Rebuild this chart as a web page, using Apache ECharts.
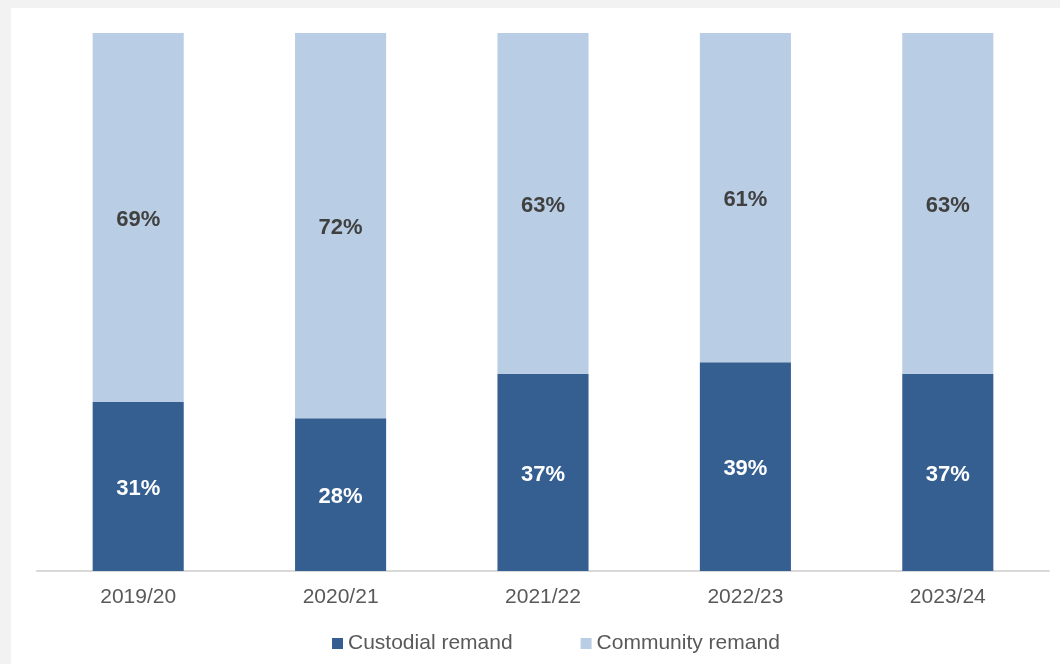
<!DOCTYPE html>
<html>
<head>
<meta charset="utf-8">
<script src="https://cdn.jsdelivr.net/npm/echarts@6/dist/echarts.min.js"></script>
<style>
  html, body { margin: 0; padding: 0; background: #f2f2f2; }
  #chart { width: 1060px; height: 664px; }
</style>
</head>
<body>
<div id="chart"></div>
<script>
// data (percent of remand episodes)
const years = ['2019/20', '2020/21', '2021/22', '2022/23', '2023/24']
const custodial = [31.4, 28.4, 36.6, 38.8, 36.6]
const community = [68.6, 71.6, 63.4, 61.2, 63.4]

const chart = echarts.init(document.getElementById('chart'))

const labelFmt = p => Math.round(p.value) + '%'

chart.setOption({
  backgroundColor: '#f2f2f2',
  animation: false,
  textStyle: { fontFamily: 'Liberation Sans, Arial, sans-serif' },
  graphic: [{
    type: 'rect',
    z: -10,
    shape: { x: 11, y: 8, width: 1049, height: 656 },
    style: { fill: '#ffffff' }
  }],
  grid: { left: 37, right: 11, top: 33, bottom: 93, containLabel: false },
  legend: {
    left: 327,
    top: 628,
    itemWidth: 11,
    itemHeight: 11,
    itemGap: 68,
    icon: 'rect',
    textStyle: { color: '#595959', fontSize: 21 },
    data: ['Custodial remand', 'Community remand']
  },
  xAxis: {
    type: 'category',
    data: years,
    axisLine: { lineStyle: { color: '#d9d9d9', width: 2 } },
    axisTick: { show: false },
    axisLabel: { color: '#595959', fontSize: 21, margin: 16 }
  },
  yAxis: {
    type: 'value',
    min: 0,
    max: 100,
    show: false
  },
  series: [
    {
      name: 'Custodial remand',
      type: 'bar',
      stack: 'remand',
      data: custodial,
      barWidth: '45%',
      itemStyle: { color: '#355f91' },
      label: {
        show: true,
        position: 'inside',
        offset: [0, 2],
        color: '#ffffff',
        fontSize: 22,
        fontWeight: 'bold',
        formatter: labelFmt
      }
    },
    {
      name: 'Community remand',
      type: 'bar',
      stack: 'remand',
      data: community,
      barWidth: '45%',
      itemStyle: { color: '#b9cde5' },
      label: {
        show: true,
        position: 'inside',
        offset: [0, 2],
        color: '#404040',
        fontSize: 22,
        fontWeight: 'bold',
        formatter: labelFmt
      }
    }
  ]
})
</script>
</body>
</html>
